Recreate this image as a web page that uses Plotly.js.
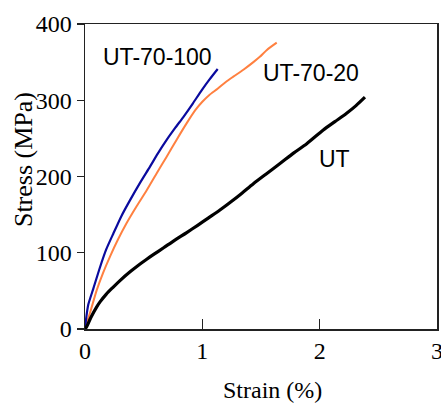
<!DOCTYPE html>
<html>
<head>
<meta charset="utf-8">
<script src="https://cdn.plot.ly/plotly-3.0.1.min.js"></script>
<style>html,body{margin:0;padding:0;background:#fff;}#chart{width:441px;height:405px;}</style>
</head>
<body>
<div id="chart"></div>
<script>
// UT
const utStrain = [0, 0.014, 0.05, 0.1, 0.128, 0.18, 0.241, 0.298, 0.384, 0.45, 0.526, 0.582, 0.67, 0.76, 0.867, 0.96, 1.05, 1.15, 1.25, 1.34, 1.435, 1.55, 1.662, 1.78, 1.89, 2.031, 2.13, 2.23, 2.31, 2.386];
const utStress = [0, 3, 15, 29, 35.5, 45.5, 55, 63.5, 75, 83, 91.5, 97.5, 106.5, 116, 126.5, 136, 145.5, 156, 167.5, 178.5, 190.5, 204, 217, 231, 243, 261, 272, 283, 293, 304];
// UT-70-100
const ut70100Strain = [0, 0.01, 0.028, 0.071, 0.128, 0.18, 0.241, 0.31, 0.384, 0.47, 0.554, 0.62, 0.696, 0.77, 0.838, 0.92, 0.994, 1.06, 1.131];
const ut70100Stress = [0, 14, 32, 53, 81, 104, 125, 148, 169, 192, 213, 230, 248, 264, 278, 296, 313, 327, 341];
// UT-70-20
const ut7020Strain = [0, 0.014, 0.05, 0.1, 0.155, 0.213, 0.28, 0.355, 0.44, 0.526, 0.61, 0.696, 0.78, 0.867, 0.94, 1.0, 1.06, 1.13, 1.2, 1.264, 1.35, 1.435, 1.49, 1.55, 1.634];
const ut7020Stress = [0, 7, 25, 51, 74, 95, 117, 139, 161, 182, 204, 226, 248, 270, 287, 298, 307, 315, 324, 331, 340, 350, 357, 366, 375.5];

const labels = ["UT-70-100", "UT-70-20", "UT"];
const labelX = [0.622, 1.93, 2.13];
const labelY = [356.7, 335.7, 223.6];

const serif = '"Liberation Serif", "Times New Roman", Times, serif';
const sans = '"Liberation Sans", Arial, Helvetica, sans-serif';

const traces = [
  {x: ut7020Strain, y: ut7020Stress, mode: 'lines', line: {color: '#ff8040', width: 2, shape: 'spline', smoothing: 0.6}, name: 'UT-70-20'},
  {x: ut70100Strain, y: ut70100Stress, mode: 'lines', line: {color: '#0a0a9e', width: 2.2, shape: 'spline', smoothing: 0.6}, name: 'UT-70-100'},
  {x: utStrain, y: utStress, mode: 'lines', line: {color: '#000000', width: 3.2, shape: 'spline', smoothing: 0.8}, name: 'UT'}
];

const annotations = labels.map((t, i) => ({
  x: labelX[i], y: labelY[i], xref: 'x', yref: 'y', text: t, showarrow: false,
  xanchor: 'center', yanchor: 'middle',
  font: {family: sans, size: 23, color: '#000'}
}));
annotations.push({
  xref: 'paper', yref: 'paper', x: 0.533, y: -0.2, text: 'Strain (%)', showarrow: false,
  xanchor: 'center', yanchor: 'middle',
  font: {family: serif, size: 24, color: '#000'}
});
annotations.push({
  xref: 'paper', yref: 'paper', x: -0.176, y: 0.554, text: 'Stress (MPa)', showarrow: false,
  textangle: -90, xanchor: 'center', yanchor: 'middle',
  font: {family: serif, size: 26, color: '#000'}
});

const layout = {
  width: 441, height: 405,
  margin: {l: 85, r: 4, t: 24, b: 76},
  paper_bgcolor: '#fff', plot_bgcolor: '#fff',
  showlegend: false,
  xaxis: {
    range: [0, 3], tickvals: [0, 1, 2, 3], ticktext: ['0', '1', '2', '3'],
    ticks: 'inside', ticklen: 10, tickwidth: 1.3, tickcolor: '#222',
    showline: true, linecolor: '#222', linewidth: 1.5, mirror: true,
    showgrid: false, zeroline: false, ticklabeloverflow: 'allow',
    tickfont: {family: serif, size: 24, color: '#000'}
  },
  yaxis: {
    range: [0, 400], tickvals: [0, 100, 200, 300, 400], ticktext: ['0', '100', '200', '300', '400'],
    ticks: 'outside', ticklen: 7, tickwidth: 1.3, tickcolor: '#222',
    showline: true, linecolor: '#222', linewidth: 1.5, mirror: true,
    showgrid: false, zeroline: false, ticklabeloverflow: 'allow',
    tickfont: {family: serif, size: 24, color: '#000'}
  },
  annotations: annotations
};

Plotly.newPlot('chart', traces, layout, {displayModeBar: false, staticPlot: true});
</script>
</body>
</html>
